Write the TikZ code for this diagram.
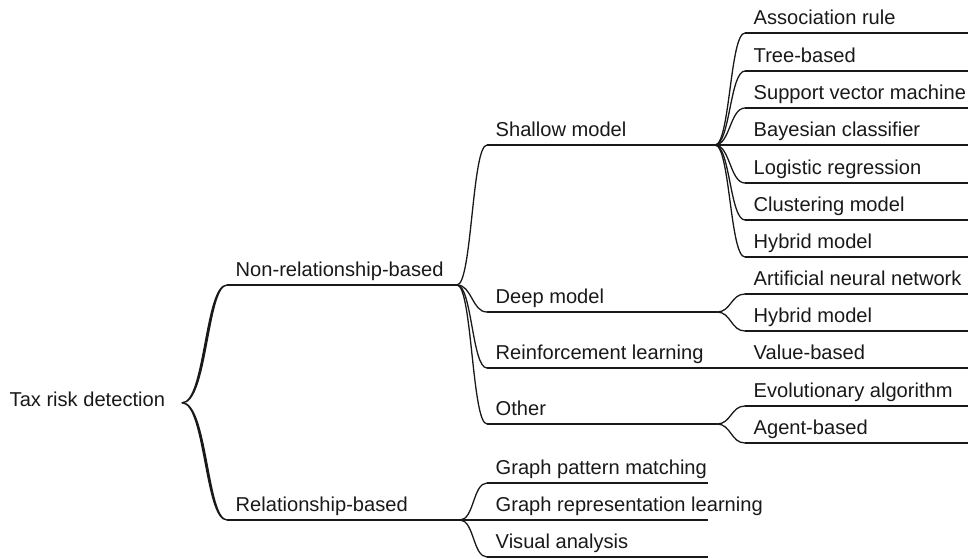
\documentclass[tikz,border=0pt]{standalone}
\usepackage{fontspec}
\setmainfont{Liberation Sans}
\begin{document}
\begin{tikzpicture}[x=1pt,y=-1pt,
  lbl/.style={anchor=south west, inner xsep=8.5pt, inner ysep=0pt, text height=15pt, text depth=8pt,
    font=\fontsize{20.1}{24}\selectfont, text=black!90},
  ul/.style={draw=black!90, line width=1.3pt},
  conn/.style={draw=black!90, line width=1.3pt},
  rootconn/.style={fill=black!90, draw=black!90, line width=1.4pt, line join=round},
]
\useasboundingbox (0,0) rectangle (968,558);

% root
\node[anchor=base west, inner xsep=17pt, inner ysep=0pt, font=\fontsize{20.1}{24}\selectfont, text=black!90] (root) at (-7.5,406) {Tax risk detection};
\coordinate (rj) at ([yshift=-4pt]root.east);

% level 1
\node[lbl] (nonrel) at (227,285) {Non-relationship-based};
\node[lbl] (rel) at (227,520) {Relationship-based};

% level 2
\node[lbl] (shallow) at (487,145) {Shallow model};
\node[lbl] (deep) at (487,312) {Deep model};
\node[lbl] (rl) at (487,368) {Reinforcement learning};
\node[lbl] (other) at (487,424) {Other};
\node[lbl] (gpm) at (487,483) {Graph pattern matching};
\node[lbl] (grl) at (487,520) {Graph representation learning};
\node[lbl] (va) at (487,557) {Visual analysis};

% level 3
\node[lbl] (ar) at (745,33) {Association rule};
\node[lbl] (tb) at (745,71) {Tree-based};
\node[lbl] (svm) at (745,108) {Support vector machine};
\node[lbl] (bc) at (745,145) {Bayesian classifier};
\node[lbl] (lr) at (745,183) {Logistic regression};
\node[lbl] (cm) at (745,220) {Clustering model};
\node[lbl] (hma) at (745,257) {Hybrid model};
\node[lbl] (ann) at (745,294) {Artificial neural network};
\node[lbl] (hmb) at (745,331) {Hybrid model};
\node[lbl] (vb) at (745,368) {Value-based};
\node[lbl] (ea) at (745,406) {Evolutionary algorithm};
\node[lbl] (ab) at (745,443) {Agent-based};

% underlines
\foreach \n/\L in {nonrel/230, rel/233, shallow/228, deep/230, rl/230, other/230,
  gpm/221, grl/221, va/221,
  ar/240, tb/240, svm/240, bc/240, lr/240, cm/240, hma/240, ann/240, hmb/240, vb/240, ea/240, ab/240}
  \draw[ul] (\n.south west) -- ++(\L,0) coordinate (\n-e);

% root connectors (tapered)
\filldraw[rootconn] (rj) .. controls +(23,0) and +(-22,0) .. (nonrel.south west)
  .. controls +(-20,0) and +(25,0) .. (rj) -- cycle;
\filldraw[rootconn] (rj) .. controls +(23,0) and +(-22,0) .. (rel.south west)
  .. controls +(-20,0) and +(25,0) .. (rj) -- cycle;

% other connectors
\foreach \p/\c/\d in {nonrel/shallow/15, nonrel/deep/15, nonrel/rl/15, nonrel/other/15,
  rel/gpm/14, rel/grl/14, rel/va/14,
  shallow/ar/15, shallow/tb/15, shallow/svm/15, shallow/bc/15, shallow/lr/15, shallow/cm/15, shallow/hma/15,
  deep/ann/14, deep/hmb/14, rl/vb/14, other/ea/14, other/ab/14}
  \draw[conn] (\p-e) .. controls +(\d,0) and +(-\d,0) .. (\c.south west);
\end{tikzpicture}
\end{document}
